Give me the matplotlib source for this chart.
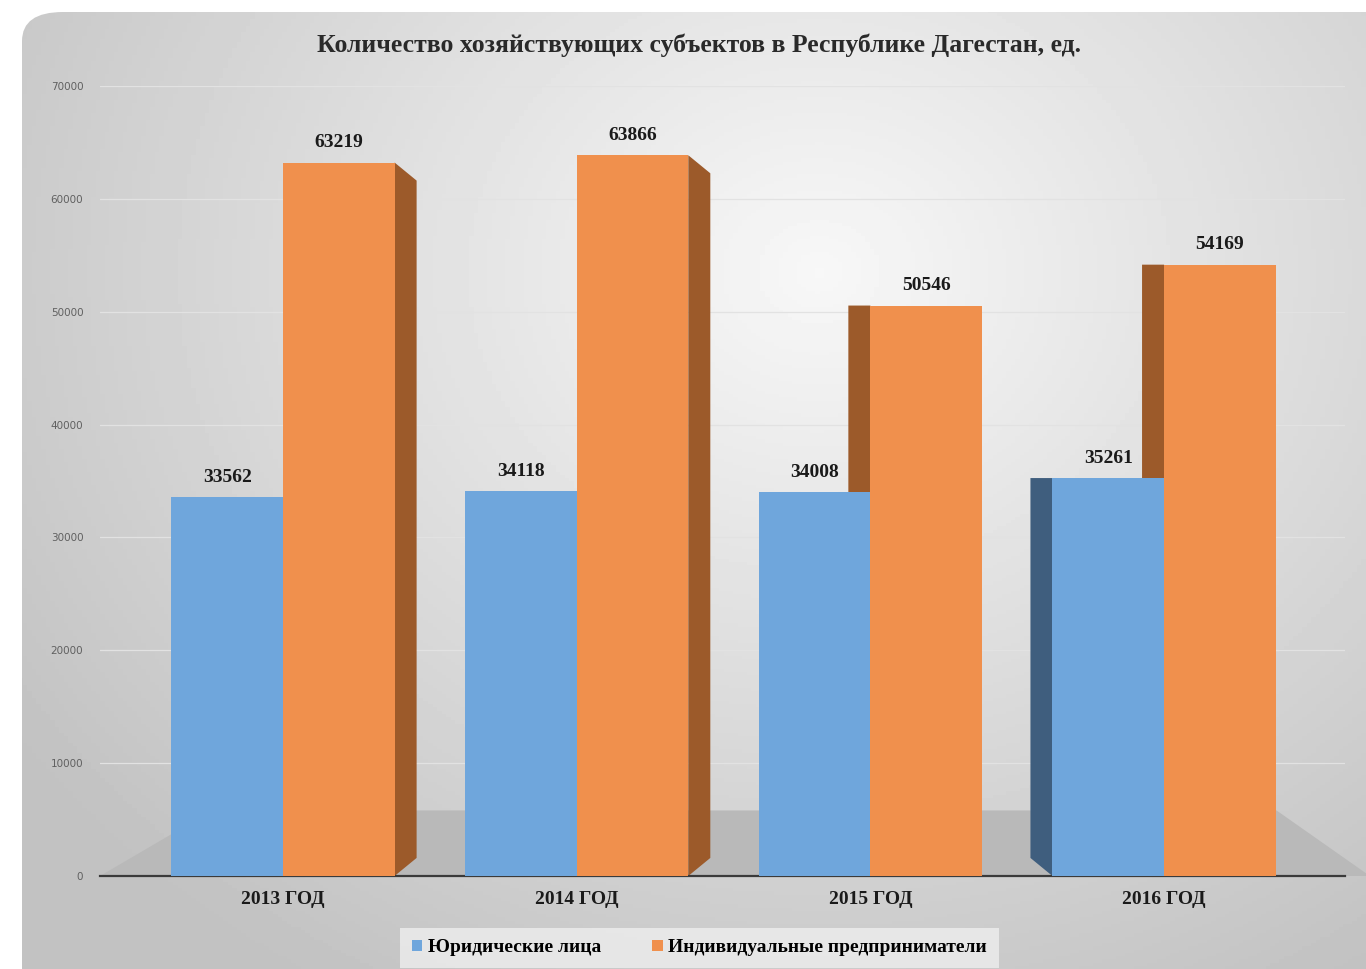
import numpy as np
import matplotlib.pyplot as plt
from matplotlib.patches import Patch, Polygon, FancyBboxPatch

# data
years = ['2013 ГОД', '2014 ГОД', '2015 ГОД', '2016 ГОД']
legal = [33562, 34118, 34008, 35261]
individual = [63219, 63866, 50546, 54169]
series_names = ['Юридические лица', 'Индивидуальные предприниматели']
yticks = [0, 10000, 20000, 30000, 40000, 50000, 60000, 70000]

blue = '#6fa6dc'
blue_dark = '#3f5e7e'
orange = '#f0904d'
orange_dark = '#9c5a2a'
serif = 'Liberation Serif'

fig = plt.figure(figsize=(13.66, 9.69), dpi=100)
fig.patch.set_facecolor('white')

# background panel with soft gradient
bg = fig.add_axes([0, 0, 1, 1], zorder=-5)
bg.set_xlim(0, 1)
bg.set_ylim(0, 1)
bg.axis('off')
gx, gy = np.meshgrid(np.linspace(0, 1, 300), np.linspace(0, 1, 300))
r = np.sqrt(((gx - 0.6) / 0.75) ** 2 + ((gy - 0.72) / 0.9) ** 2)
shade = np.clip(0.97 - 0.22 * r, 0.76, 0.97)
img = bg.imshow(shade, extent=[0, 1, 0, 1], origin='lower', cmap='gray',
                vmin=0, vmax=1, aspect='auto')
panel = FancyBboxPatch((22 / 1366, -0.05), 1.1, 1 - 12 / 969 + 0.05,
                       boxstyle='round,pad=0,rounding_size=0.03',
                       transform=bg.transAxes, facecolor='none', edgecolor='none')
bg.add_patch(panel)
img.set_clip_path(panel)

ax = fig.add_axes([100 / 1366, 1 - 876 / 969, 1245 / 1366, 790 / 969])
ax.patch.set_alpha(0)
ax.set_xlim(-0.623, 3.616)
ax.set_ylim(0, 70000)

# floor of the 3D box
floor = Polygon([(0.0, 0.0), (0.09, 0.083), (0.945, 0.083), (1.02, 0.0)],
                closed=True, transform=ax.transAxes, facecolor='#b9b9b9',
                edgecolor='none', zorder=1, clip_on=False)
ax.add_patch(floor)

x = np.arange(len(years))
w = 0.38
dx = 0.075
dy = 1600

for i in x:
    ax.bar(i - w / 2, legal[i], width=w, color=blue, zorder=3)
    ax.bar(i + w / 2, individual[i], width=w, color=orange, zorder=3)

    if i < 2:
        # right side face on orange bar
        xe = i + w
        face = [(xe, 0), (xe + dx, dy), (xe + dx, individual[i] - dy), (xe, individual[i])]
        ax.add_patch(Polygon(face, facecolor=orange_dark, edgecolor='none', zorder=2.5))
    else:
        # left side face on orange bar (seen above blue bar)
        xe = i
        face = [(xe, 0), (xe - dx, dy), (xe - dx, individual[i]), (xe, individual[i])]
        ax.add_patch(Polygon(face, facecolor=orange_dark, edgecolor='none', zorder=2.5))
    if i == 3:
        xe = i - w
        face = [(xe, 0), (xe - dx, dy), (xe - dx, legal[i]), (xe, legal[i])]
        ax.add_patch(Polygon(face, facecolor=blue_dark, edgecolor='none', zorder=2.5))

    ax.text(i - w / 2, legal[i] + 1000, str(legal[i]), ha='center', va='bottom',
            family=serif, fontweight='bold', fontsize=14, color='#1a1a1a', zorder=5)
    ax.text(i + w / 2, individual[i] + 1000, str(individual[i]), ha='center', va='bottom',
            family=serif, fontweight='bold', fontsize=14, color='#1a1a1a', zorder=5)

ax.set_yticks(yticks)
ax.set_yticklabels([str(v) for v in yticks], fontsize=7.5, color='#606060')
ax.set_xticks(x)
ax.set_xticklabels(years, family=serif, fontweight='bold', fontsize=14, color='#1a1a1a')
ax.tick_params(axis='both', length=0)
ax.tick_params(axis='x', pad=11)
ax.tick_params(axis='y', pad=12)
ax.yaxis.grid(True, color='#e2e2e2', lw=0.9, zorder=0)
for s in ['top', 'right', 'left']:
    ax.spines[s].set_visible(False)
ax.spines['bottom'].set_color('#3a3a3a')
ax.spines['bottom'].set_linewidth(1.6)

fig.text(0.512, 1 - 45 / 969, 'Количество хозяйствующих субъектов в Республике Дагестан, ед.',
         ha='center', va='center', family=serif, fontweight='bold', fontsize=18.5, color='#2a2a2a')

handles = [Patch(facecolor=blue, edgecolor='none'), Patch(facecolor=orange, edgecolor='none')]
leg = fig.legend(handles, series_names, loc='center', bbox_to_anchor=(0.512, 1 - 948 / 969),
                 ncol=2, frameon=True, handlelength=0.55, handleheight=0.55,
                 handletextpad=0.3, columnspacing=2.6, borderpad=0.3,
                 prop={'family': serif, 'weight': 'bold', 'size': 14})
leg.get_frame().set_facecolor('#eeeeee')
leg.get_frame().set_edgecolor('none')
leg.get_frame().set_boxstyle('square', pad=0.3)

fig.savefig('out.png', dpi=100)
